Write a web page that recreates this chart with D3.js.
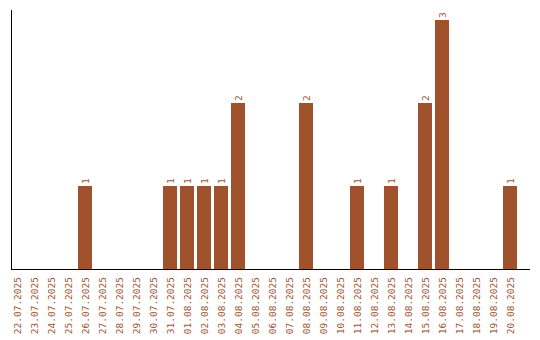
<!DOCTYPE html>
<html><head><meta charset="utf-8">
<script src="https://cdnjs.cloudflare.com/ajax/libs/d3/7.8.5/d3.min.js"></script>
<style>body{margin:0;background:#fff}svg{display:block}</style>
</head><body>
<script>
const dates = ["22.07.2025","23.07.2025","24.07.2025","25.07.2025","26.07.2025","27.07.2025","28.07.2025","29.07.2025","30.07.2025","31.07.2025","01.08.2025","02.08.2025","03.08.2025","04.08.2025","05.08.2025","06.08.2025","07.08.2025","08.08.2025","09.08.2025","10.08.2025","11.08.2025","12.08.2025","13.08.2025","14.08.2025","15.08.2025","16.08.2025","17.08.2025","18.08.2025","19.08.2025","20.08.2025"];
const counts = [0,0,0,0,1,0,0,0,0,1,1,1,1,2,0,0,0,2,0,0,1,0,1,0,2,3,0,0,0,1];

const W = 540, H = 340;
const color = "#a0522d";
const font = "'DejaVu Sans Mono', monospace";

const svg = d3.select("body").append("svg").attr("width", W).attr("height", H);

const x = d3.scaleBand().domain(dates).range([10, 517]).paddingInner(3/17).paddingOuter(0);
const y = d3.scaleLinear().domain([0, 3]).range([269, 20]);

const data = dates.map((d, i) => ({date: d, v: counts[i]}));

svg.selectAll("rect.bar").data(data.filter(d => d.v > 0)).enter().append("rect")
  .attr("class", "bar")
  .attr("x", d => x(d.date))
  .attr("width", x.bandwidth())
  .attr("y", d => y(d.v))
  .attr("height", d => y(0) - y(d.v))
  .attr("fill", color);

svg.selectAll("text.val").data(data.filter(d => d.v > 0)).enter().append("text")
  .attr("class", "val")
  .attr("transform", d => `translate(${x(d.date) + x.bandwidth()/2 + 3.5},${y(d.v) - 2}) rotate(-90)`)
  .attr("text-anchor", "start")
  .attr("font-family", font)
  .attr("font-size", "9.5px")
  .attr("fill", color)
  .text(d => d.v);

// axes lines
svg.append("line").attr("x1", 11.5).attr("x2", 11.5).attr("y1", 10).attr("y2", 270).attr("stroke", "#000").attr("stroke-width", 1);
svg.append("line").attr("x1", 11).attr("x2", 530).attr("y1", 269.5).attr("y2", 269.5).attr("stroke", "#000").attr("stroke-width", 1);

// x labels
const xAxis = d3.axisBottom(x).tickSize(0).tickPadding(0);
const gx = svg.append("g").attr("transform", "translate(0,270)").call(xAxis);
gx.select(".domain").remove();
gx.selectAll("text")
  .attr("font-family", font)
  .attr("font-size", "9.5px")
  .attr("fill", color)
  .attr("text-anchor", "end")
  .attr("dy", null)
  .attr("y", 0)
  .attr("transform", "translate(3.5,7) rotate(-90)");
</script>
</body></html>
